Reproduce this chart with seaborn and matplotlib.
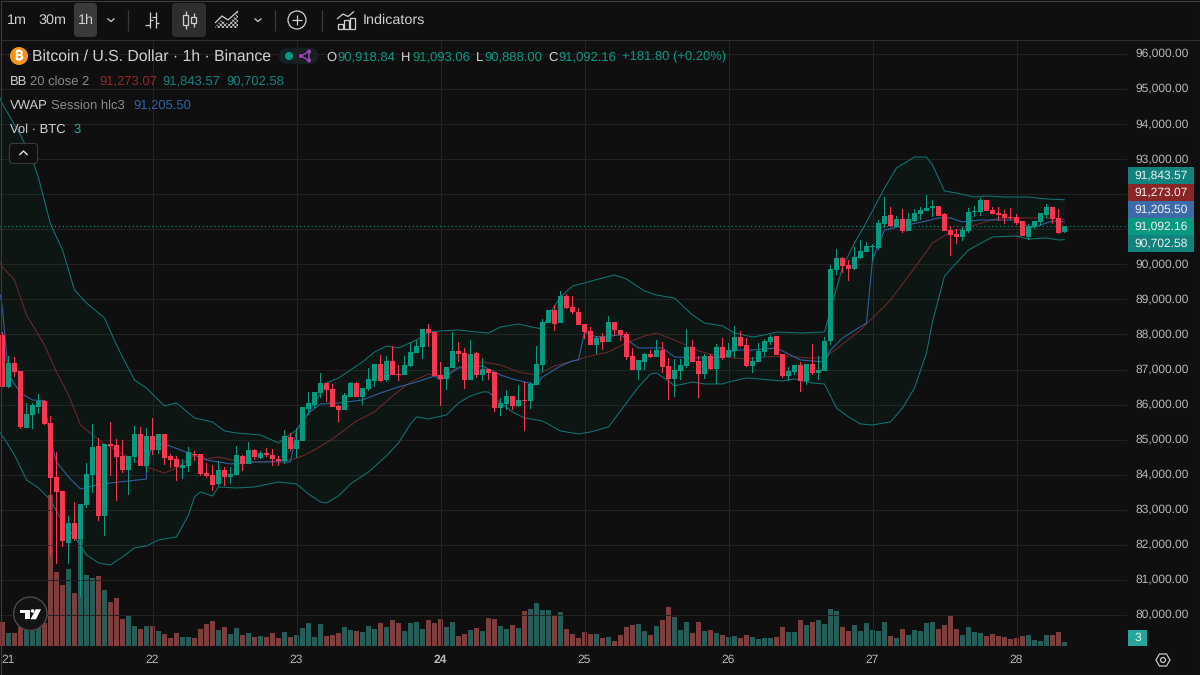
##Import Libraries
import numpy as np
import pandas as pd
import matplotlib
matplotlib.use('Agg')
import matplotlib.pyplot as plt
import matplotlib.transforms as mtrans
import seaborn as sns
from matplotlib.patches import Circle, FancyBboxPatch, Polygon, Rectangle

##Candles, one per hour, first one is the last hour of the 20th
first_hour = -1
open_prices = [87986, 86495, 87198, 86960, 85345, 85707, 85935, 86105, 85470, 83930, 83540, 82060, 82620, 82170, 83140, 83995,
               84820, 82830, 84880, 84850, 84530, 84140, 84500, 85155, 84235, 85110, 84710, 85165, 84540, 84440, 84205, 84255,
               84600, 84595, 84045, 83995, 83730, 84140, 83940, 83995, 84540, 84310, 84710, 84490, 84615, 84565, 84450, 84395,
               85080, 84740, 84963, 85866, 85990, 86320, 86625, 86445, 85970, 85845, 86225, 86625, 86215, 86445, 86675, 87160,
               86700, 87245, 86875, 86845, 87102, 87472, 87643, 88157, 88070, 86845, 86730, 87045, 87530, 87470, 86700, 87470,
               86845, 87015, 86930, 85905, 86018, 86245, 85960, 86130, 86103, 86560, 87130, 88327, 88700, 88327, 89100, 88785,
               88640, 88300, 88100, 87700, 87930, 87785, 88357, 88130, 88015, 87390, 86990, 87215, 87445, 87360, 87560, 87100,
               86730, 86960, 87100, 87645, 87245, 86875, 87385, 87015, 87645, 87360, 87530, 87930, 87700, 87100, 87215, 87500,
               87785, 87955, 87445, 86815, 86930, 87130, 86675, 87160, 86900, 86960, 87824, 89840, 90182, 89982, 89868, 90182,
               90353, 90486, 90467, 91151, 91408, 91066, 91294, 90952, 91237, 91437, 91522, 91608, 91665, 91437, 90980, 90866,
               90781, 90952, 91494, 91494, 91836, 91551, 91465, 91437, 91351, 91351, 91237, 90781, 91066, 91209, 91408, 91636,
               91323, 90918.84]
high_prices = [88080, 87388, 87350, 86960, 86040, 86040, 86305, 86135, 85680, 84650, 83540, 82830, 83230, 83170, 84330, 85450,
               85050, 84880, 85505, 85010, 84990, 84535, 85395, 85355, 85335, 85610, 85165, 85165, 84595, 84540, 84440, 84785,
               84690, 84595, 84345, 84270, 84395, 84225, 84215, 84820, 84570, 84935, 84730, 84690, 84765, 84745, 84520, 85280,
               85185, 85325, 85942, 86360, 86360, 86890, 86625, 86590, 85980, 86320, 86655, 86645, 86475, 87035, 87160, 87415,
               87385, 87670, 87130, 87385, 87795, 87845, 88157, 88300, 88070, 87215, 87075, 88070, 87785, 87615, 87845, 87500,
               87320, 87015, 86930, 86190, 86417, 86245, 86550, 86645, 86645, 87670, 88440, 88700, 88840, 89240, 89155, 89100,
               88755, 88300, 88215, 87960, 88040, 88528, 88357, 88130, 88070, 87615, 87275, 87470, 87560, 87845, 87785, 87330,
               87300, 87300, 88157, 87845, 87385, 87445, 87445, 87730, 87900, 87760, 88240, 88100, 87900, 87360, 87760, 87870,
               87985, 87955, 87445, 87075, 87130, 87215, 87160, 87730, 87385, 87930, 89982, 90438, 90210, 90125, 90505, 90695,
               90638, 90581, 91265, 91920, 91636, 91380, 91580, 91465, 91580, 91636, 91978, 91836, 91665, 91465, 91094, 91009,
               91066, 91608, 91665, 91893, 91836, 91636, 91636, 91551, 91608, 91437, 91237, 91151, 91237, 91465, 91722, 91636,
               91580, 91093.06]
low_prices = [86490, 86466, 86800, 85300, 85345, 85317, 85725, 85420, 81700, 81450, 81950, 81450, 82100, 80510, 83040, 83490,
              82685, 82260, 83950, 83240, 84060, 83425, 84330, 84235, 84090, 84565, 84595, 84280, 84185, 83835, 83870, 84090,
              84405, 83975, 83910, 83540, 83665, 83685, 83740, 83995, 84120, 84310, 84420, 84460, 84500, 84250, 84250, 84300,
              84690, 84470, 84963, 85705, 85895, 86190, 86075, 85940, 85515, 85845, 86225, 86215, 85990, 86390, 86495, 86645,
              86645, 86845, 86675, 86845, 87065, 87472, 87300, 87643, 86815, 85960, 86417, 87045, 87215, 86445, 86700, 86760,
              86675, 86700, 85790, 85675, 85845, 85845, 85940, 85247, 85875, 86560, 86930, 88327, 88100, 88327, 88725, 88585,
              88270, 87870, 87700, 87445, 87555, 87785, 87955, 87815, 87275, 86990, 86700, 86990, 87330, 87360, 86900, 86130,
              86220, 86700, 87045, 87215, 86190, 86730, 86990, 86590, 87275, 87330, 87330, 87645, 87075, 86900, 87215, 87360,
              87700, 87415, 86760, 86675, 86845, 86360, 86560, 86845, 86700, 86960, 87700, 89697, 89754, 89535, 89840, 90153,
              90353, 90096, 90410, 91037, 91066, 91066, 90895, 90952, 91209, 91265, 91522, 91351, 91380, 90952, 90239, 90581,
              90667, 90895, 91351, 91380, 91522, 91437, 91237, 91151, 91265, 91123, 90809, 90695, 91009, 91094, 91323, 91151,
              90866, 90888.00]
close_prices = [86514, 87198, 86940, 85374, 85735, 85992, 86105, 85450, 83920, 83520, 82100, 82620, 82170, 83170, 84025, 84800,
                82830, 84880, 84820, 84500, 84140, 84535, 85155, 84235, 85110, 84710, 85165, 84490, 84420, 84220, 84280, 84635,
                84565, 84025, 83950, 83710, 84140, 83940, 84025, 84565, 84310, 84710, 84500, 84615, 84565, 84460, 84405, 85110,
                84740, 84995, 85942, 86037, 86360, 86625, 86415, 85940, 85845, 86275, 86625, 86215, 86475, 86730, 87160, 86685,
                87245, 86845, 86845, 87130, 87500, 87672, 88157, 88043, 86815, 86730, 87075, 87530, 87445, 86700, 87445, 86845,
                87015, 86900, 85905, 86045, 86245, 85960, 86130, 86110, 86590, 87160, 88357, 88700, 88300, 89100, 88755, 88640,
                88270, 88070, 87700, 87900, 87785, 88357, 88130, 87985, 87360, 86990, 87275, 87445, 87360, 87560, 87075, 86730,
                86990, 87130, 87645, 87215, 86875, 87385, 87015, 87645, 87330, 87560, 87930, 87670, 87100, 87245, 87530, 87815,
                87930, 87415, 86815, 86960, 87130, 86675, 87160, 86900, 86990, 87815, 89868, 90182, 89953, 89868, 90210, 90381,
                90524, 90524, 91180, 91380, 91094, 91294, 90952, 91294, 91465, 91551, 91608, 91665, 91380, 90952, 90838, 90781,
                90980, 91494, 91522, 91836, 91522, 91437, 91418, 91323, 91323, 91180, 90809, 91094, 91237, 91465, 91636, 91294,
                90895, 91092.16]
volumes = [18, 9.75, 9.75, 14.5, 13, 12, 14.5, 17, 113, 55.5, 45.75, 57.75, 39.75, 81, 53.25, 51,
           52.5, 42, 33, 36, 20.25, 22.5, 15, 12.75, 15, 15, 11.25, 9, 6, 9.75, 6.75, 6.75,
           6, 12.75, 16.5, 18.75, 12, 14.25, 9, 13.5, 8.25, 9.75, 6.75, 7.5, 6.75, 9.75, 6, 10.5,
           6.75, 8.25, 13.5, 17.25, 6.75, 16.5, 7.5, 8.25, 9.75, 14.25, 12, 11.25, 10.5, 15, 12.75, 17.25,
           14.25, 19.5, 17.25, 11.25, 17.25, 18, 12.75, 19.5, 17.25, 20.25, 14.25, 18, 7.5, 9, 12, 13.5,
           11.25, 21, 20.25, 15, 12.75, 15.75, 13.5, 26.25, 27.75, 32.25, 27, 27, 23.25, 25.5, 12.75, 9,
           6, 10.5, 9, 9, 6, 6.75, 3.75, 8.25, 14.25, 15.75, 16.5, 11.25, 8.25, 15, 19.5, 29.25,
           21.75, 12, 18, 9.75, 18, 11.25, 12, 9.75, 8.25, 6.75, 7.5, 6, 8.25, 6.75, 5.25, 6,
           6, 6.75, 14.25, 10.5, 10.5, 19.5, 15.75, 18, 19.5, 16.5, 27.75, 26.25, 14.25, 11.25, 15.75, 11.25,
           17.25, 12, 11.25, 18, 7.5, 6, 12.75, 8.25, 12, 11.25, 17.25, 18, 12.75, 15.75, 22.5, 12.75,
           8.25, 14.25, 10.5, 9.75, 7.5, 9, 7.5, 6.75, 5.25, 6, 7.5, 8.25, 4.5, 3.75, 8.25, 8.25,
           10.5, 3]

##Bollinger bands and VWAP, read at the hours where the line bends
upper_hours = [-2, -1, 2, 4, 5, 7, 9, 11, 13, 16, 18, 19, 21, 23, 26, 28, 31, 34, 36, 38, 42, 45, 48, 50, 53, 55, 57, 59, 61,
               63, 65, 68, 70, 72, 75, 78, 80, 82, 85, 88, 89, 90, 92, 94, 96, 99, 101, 103, 106, 108, 111, 114, 116, 119,
               121, 124, 126, 128, 132, 136, 137, 139, 141, 143, 146, 148, 151, 153, 154, 156, 158, 161, 163, 166, 170, 173, 176]
upper_band = [94973, 94574, 93690, 92977, 92464, 91150, 90410, 89269, 88899, 88471, 87701, 87358, 86702, 86474, 85961, 86047,
              85619, 85505, 85248, 85191, 85134, 84906, 85276, 85761, 86617, 86760, 86988, 87216, 87501, 87672, 87615, 87843,
              88071, 88100, 88128, 88071, 88043, 88214, 88300, 88186, 88157, 88556, 89070, 89383, 89469, 89612, 89697, 89583,
              89241, 89127, 89041, 88556, 88328, 88243, 88043, 87929, 87986, 88071, 88043, 88071, 88699, 89925, 90610, 91209,
              92178, 92749, 93062, 93062, 92834, 92093, 92036, 91922, 91950, 91922, 91922, 91865, 91843.57]
lower_hours = [-2, -1, 1, 3, 5, 7, 9, 11, 13, 15, 17, 19, 21, 23, 25, 28, 30, 31, 32, 34, 35, 38, 41, 45, 48, 50, 52, 53, 55,
               57, 60, 63, 65, 67, 68, 70, 73, 75, 77, 79, 80, 82, 84, 86, 89, 92, 95, 97, 100, 102, 105, 107, 108, 110, 111,
               114, 116, 119, 120, 123, 127, 129, 131, 134, 136, 138, 140, 142, 144, 147, 149, 151, 153, 154, 156, 158, 160,
               164, 168, 170, 173, 175, 176]
lower_band = [85334, 85105, 84563, 83850, 83622, 83280, 82653, 82225, 81711, 81483, 81426, 81654, 81911, 81968, 82139, 82225,
              82852, 83366, 83508, 83394, 83651, 83622, 83651, 83793, 83736, 83451, 83223, 83195, 83394, 83736, 84079, 84535,
              84906, 85448, 85647, 85590, 85704, 86047, 86246, 86360, 86360, 86047, 85790, 85619, 85533, 85248, 85162, 85219,
              85362, 85818, 86503, 86874, 86902, 86674, 86531, 86645, 86588, 86588, 86645, 86760, 86702, 86674, 86731, 86617,
              86588, 85904, 85647, 85448, 85419, 85505, 85904, 86474, 87473, 88357, 89669, 90039, 90410, 90781, 90809, 90724,
              90752, 90695, 90702.58]
basis_hours = [-2, -1, 1, 3, 6, 8, 10, 12, 14, 16, 20, 23, 26, 28, 31, 33, 35, 38, 42, 47, 49, 51, 54, 58, 61, 64, 67, 70, 72,
               75, 79, 82, 85, 88, 91, 94, 97, 100, 103, 106, 108, 111, 115, 119, 123, 126, 130, 133, 136, 138, 142, 147, 151,
               154, 157, 160, 165, 169, 173, 176]
basis_band = [90182, 89925, 89554, 88556, 87701, 86931, 86275, 85419, 85134, 84877, 84506, 84221, 84050, 84193, 84563, 84449,
              84506, 84392, 84364, 84421, 84535, 84706, 85020, 85533, 85790, 86246, 86645, 86874, 86788, 87073, 87216, 87130,
              86931, 86845, 87102, 87244, 87387, 87501, 87758, 87957, 88043, 87843, 87530, 87358, 87301, 87358, 87387, 87330,
              87330, 87587, 88128, 88984, 89897, 90610, 90923, 91066, 91323, 91323, 91323, 91273.07]
vwap_hours = [-1.33, -1, 0, 2, 4, 6, 7, 8, 10, 12, 14, 17, 23, 23, 24, 26, 30, 33, 37, 41, 47, 48, 50, 52, 55, 59, 62, 65, 68,
              71, 72, 75, 79, 82, 84, 88, 89, 92, 94, 95, 96, 98, 102, 105, 109, 111, 115, 119, 121, 124, 128, 130, 132, 136,
              137, 139, 143, 144, 146, 149, 153, 155, 157, 159, 162, 168, 169, 170, 172, 174, 176]
vwap_line = [89127, 88699, 86845, 86332, 86132, 86104, 84991, 84364, 83936, 83594, 83679, 83765, 83879, 84278, 84877, 84877,
             84621, 84421, 84307, 84364, 84364, 85276, 85761, 86018, 86047, 86132, 86332, 86503, 86645, 86817, 86702, 87045,
             87102, 86845, 86731, 86560, 86788, 87102, 87244, 87273, 88071, 87929, 87986, 87615, 87615, 87358, 87330, 87358,
             87558, 87558, 87615, 87444, 87273, 87216, 87558, 87900, 88328, 90125, 90980, 91095, 91237, 91323, 91323, 91209,
             91266, 91266, 91210, 91038, 91123, 91237, 91205.50]

##Axis labels and the stacked price tags on the right (91k and 92k sit behind the tags)
price_ticks = [80000 + 1000 * i for i in range(17)]
hidden_ticks = [91000, 92000]
day_labels = ['21', '22', '23', '24', '25', '26', '27', '28']
last_price = 91092.16
price_tags = ['91,843.57', '91,273.07', '91,205.50', '91,092.16', '90,702.58']

UP = '#089981'
DOWN = '#f7374f'
BG = '#0f0f0f'
GRID = '#222222'
TEXT = '#d1d1d1'
MUTED = '#8a8a8a'
BAND = '#117572'
BASIS = '#702828'
VWAP = '#2f5f9f'
TEAL_TAG = '#12827d'
RED_TXT = '#8f2a2a'
BLUE_TXT = '#2f62a8'

sns.set_theme(style='dark', rc={'axes.facecolor': BG, 'figure.facecolor': BG})
plt.rcParams['font.family'] = ['Liberation Sans', 'DejaVu Sans']
plt.rcParams['text.hinting'] = 'no_hinting'
plt.rcParams['hatch.linewidth'] = 0.5

W, H = 1200, 675
PANE_TOP, PANE_BOTTOM, PANE_RIGHT = 40, 646, 1127
PX_PER_USD = 0.03506   # 35 pixels per 1000 dollars
PX_PER_HOUR = 6
DAY_21_PX = 8.5        # half a pixel in, so 5px bodies stay centred on a 1px wick

df = pd.DataFrame({'hour': first_hour + np.arange(len(close_prices)), 'open': open_prices, 'high': high_prices,
                   'low': low_prices, 'close': close_prices, 'volume': volumes})
df['direction'] = np.where(df['close'] >= df['open'], 'up', 'down')

fig = plt.figure(figsize=(12, 6.75), dpi=100, facecolor=BG)
pane_box = [0, 1 - PANE_BOTTOM / H, PANE_RIGHT / W, (PANE_BOTTOM - PANE_TOP) / H]
ax_vol = fig.add_axes(pane_box, zorder=1)
ax = fig.add_axes(pane_box, zorder=2)
ax.patch.set_visible(False)
overlay = fig.add_axes([0, 0, 1, 1], zorder=3)
overlay.set_xlim(0, W)
overlay.set_ylim(H, 0)
overlay.axis('off')

xlim = (-DAY_21_PX / PX_PER_HOUR, (PANE_RIGHT - DAY_21_PX) / PX_PER_HOUR)

##Volume at the bottom of the pane
sns.barplot(data=df, x='hour', y='volume', hue='direction', palette={'up': '#1d665f', 'down': '#8a3333'},
            native_scale=True, dodge=False, width=0.8, linewidth=0, legend=False, ax=ax_vol)
ax_vol.set_xlim(xlim)
ax_vol.set_ylim(0, (PANE_BOTTOM - PANE_TOP) * 0.75)
ax_vol.set_xticks([])
ax_vol.set_yticks([])
ax_vol.set_xlabel('')
ax_vol.set_ylabel('')
ax_vol.set_facecolor(BG)
for s in ax_vol.spines.values():
    s.set_visible(False)

##Bollinger fill, bands and VWAP
band_x = list(upper_hours) + list(lower_hours)[::-1]
band_y = list(upper_band) + list(lower_band)[::-1]
ax.fill(band_x, band_y, color=UP, alpha=0.05, linewidth=0, zorder=1)
sns.lineplot(x=upper_hours, y=upper_band, color=BAND, lw=0.75, estimator=None, sort=False, ax=ax, zorder=2)
sns.lineplot(x=lower_hours, y=lower_band, color=BAND, lw=0.75, estimator=None, sort=False, ax=ax, zorder=2)
sns.lineplot(x=basis_hours, y=basis_band, color=BASIS, lw=0.75, estimator=None, sort=False, ax=ax, zorder=2)
sns.lineplot(x=vwap_hours, y=vwap_line, color=VWAP, lw=0.8, estimator=None, sort=False, ax=ax, zorder=3)

##Candles, wicks as 1px wide bars so they snap to the pixel grid at full colour
colors = np.where(df['direction'] == 'up', UP, DOWN)
ax.bar(df['hour'], df['high'] - df['low'], bottom=df['low'], width=1 / PX_PER_HOUR, color=colors, linewidth=0, zorder=4)
body = np.maximum((df['close'] - df['open']).abs(), 1 / PX_PER_USD)
ax.bar(df['hour'], body, bottom=df[['open', 'close']].min(axis=1), width=0.8, color=colors, linewidth=0, zorder=5)

ax.axhline(last_price, color=UP, lw=0.8, ls=(0, (1, 2.5)), zorder=3)

##Scales and grid
ax.set_xlim(xlim)
ax.set_ylim(96000 - (PANE_BOTTOM - 54) / PX_PER_USD, 96000 + (54 - PANE_TOP) / PX_PER_USD)
ax.yaxis.tick_right()
ax.set_yticks(price_ticks)
ax.set_yticklabels(['' if p in hidden_ticks else f'{p:,.2f}' for p in price_ticks], color='#b8b8b8', fontsize=8.64)
ax.set_xticks([24 * i for i in range(len(day_labels))])
ax.set_xticklabels(day_labels, color='#b8b8b8', fontsize=8.64)
ax.get_xticklabels()[3].set_fontweight('bold')
ax.tick_params(axis='y', length=0, pad=5.8)
ax.tick_params(axis='x', length=0, pad=6.2)
##has to come after tick_params, which resets the label transforms
label_lift = mtrans.ScaledTranslation(0, 1.5 / 100, fig.dpi_scale_trans)
for label in ax.get_yticklabels():
    label.set_transform(label.get_transform() + label_lift)
ax.grid(True, color=GRID, lw=0.72)
ax.set_axisbelow(True)
ax.get_xgridlines()[0].set_visible(False)
ax.set_xlabel('')
ax.set_ylabel('')
for s in ax.spines.values():
    s.set_visible(False)


##Everything below sits in pixel coordinates on the overlay
def txt(x, y, s, color=TEXT, size=13, **kw):
    overlay.text(x, y + 0.7, s, color=color, fontsize=size * 0.72, va='center', ha=kw.pop('ha', 'left'), **kw)


def line(xs, ys, color='#d1d1d1', lw=0.9, **kw):
    overlay.plot(xs, ys, color=color, lw=lw, solid_capstyle='butt', **kw)


def round_box(x0, y0, x1, y1, color, edge='none', r=3):
    overlay.add_patch(FancyBboxPatch((x0 + r, y0 + r), x1 - x0 - 2 * r, y1 - y0 - 2 * r, boxstyle=f'round,pad={r},rounding_size={r}',
                                     fc=color, ec=edge, lw=0.8))


overlay.add_patch(Rectangle((0, 0), W, PANE_TOP - 0.5, fc=BG, ec='none', zorder=0))
line([0, W], [39.5, 39.5], color='#2e2e2e', lw=0.8)
overlay.add_patch(Rectangle((0.5, 0.5), W - 1, H - 1, fc='none', ec='#3d3d3d', lw=0.8))

##Toolbar
round_box(74, 3, 97, 37, '#3a3a3a', r=4)
round_box(172, 3, 206, 37, '#2e2e2e', r=4)
txt(7, 20, '1m', size=14.4)
txt(38, 20, '30m', size=14.4)
txt(78, 20, '1h', size=14.4)
txt(363, 20, 'Indicators', size=14.4)
for cx in (111, 258):
    line([cx - 3.5, cx, cx + 3.5], [18.5, 21.5, 18.5])
for sx in (127.5, 274.5, 321.5):
    line([sx, sx], [10, 31], color='#3a3a3a')
##bar chart icon
line([149.5, 149.5], [12, 28])
line([155.5, 155.5], [12, 28])
line([145, 149.5], [25, 25])
line([149.5, 153], [20, 20])
line([152, 155.5], [17, 17])
line([155.5, 159], [23, 23])
##candle icon
for bx, top, bottom in ((185.5, 15, 25), (193.5, 17, 23)):
    line([bx, bx], [11 if bx < 190 else 13, 29 if bx < 190 else 27])
    overlay.add_patch(Rectangle((bx - 2.5, top), 5, bottom - top, fc='#2e2e2e', ec='#d1d1d1', lw=0.9, zorder=3))
##area icon
overlay.add_patch(Polygon([(215, 27), (222, 20), (228, 24), (238, 12), (238, 28), (215, 28)], fc='none', ec='#c8c8c8', lw=0, hatch='xxxxxxxx'))
line([215, 222, 228, 238], [23, 16, 20, 11])
##plus icon
overlay.add_patch(Circle((297, 20), 9, fc='none', ec='#d1d1d1', lw=0.9))
line([297, 297], [15, 25])
line([292, 302], [20, 20])
##indicators icon
line([337, 343, 348, 354], [19, 14, 16.5, 11.5])
for bx, top in ((337.5, 24), (343.5, 20), (349.5, 18)):
    overlay.add_patch(Rectangle((bx, top), 5, 28.5 - top, fc='none', ec='#d1d1d1', lw=0.9))

##Legend
overlay.add_patch(Circle((19, 56), 9, fc='#f7931a', ec='none'))
overlay.text(19, 56.5, '\u20bf', color='white', fontsize=9.5, ha='center', va='center',
             family=['Inter', 'Noto Sans', 'Roboto', 'Open Sans', 'DejaVu Sans'], fontweight='bold')
txt(32, 56, 'Bitcoin / U.S. Dollar \u00b7 1h \u00b7 Binance', size=15.7)
round_box(279, 48, 318, 64, '#15201f', r=8)
overlay.add_patch(Circle((289, 56), 4, fc=UP, ec='none'))
line([301, 309, 309, 301], [56, 51.5, 60.5, 56], color='#a83fc4', lw=1.0)
for dx, dy in ((301, 56), (309, 51.5), (309, 60.5)):
    overlay.add_patch(Circle((dx, dy), 2, fc='#a83fc4', ec='none'))
for x, s in ((326, 'O'), (401, 'H'), (476, 'L'), (548, 'C')):
    txt(x, 56.5, s)
for x, s in ((337, '90,918.84'), (412, '91,093.06'), (484, '90,888.00'), (558, '91,092.16'), (622, '+181.80 (+0.20%)')):
    txt(x, 56.5, s, color=UP)
txt(10, 80.5, 'BB')
txt(30, 80.5, '20 close 2', color=MUTED)
txt(99, 80.5, '91,273.07', color=RED_TXT)
txt(162, 80.5, '91,843.57', color=TEAL_TAG)
txt(226, 80.5, '90,702.58', color=TEAL_TAG)
txt(10, 104.5, 'VWAP')
txt(51, 104.5, 'Session hlc3', color=MUTED)
txt(133, 104.5, '91,205.50', color=BLUE_TXT)
txt(10, 128.5, 'Vol \u00b7 BTC')
txt(74, 128.5, '3', color='#26a69a')
round_box(9.5, 143.5, 37.5, 163.5, BG, edge='#3a3a3a', r=3)
line([19.5, 23.5, 27.5], [155, 151, 155], color='#e0e0e0', lw=1.0)

##Price tags
tag_colors = [TEAL_TAG, '#8a2525', '#3d6aa8', UP, TEAL_TAG]
for i, (s, c) in enumerate(zip(price_tags, tag_colors)):
    top = 167 + 17 * i
    overlay.add_patch(Rectangle((1128, top), 66, 17, fc=c, ec='none'))
    txt(1161, top + 7.4, s, color='#f0f0f0', size=12, ha='center')
overlay.add_patch(Rectangle((1128, 630), 19, 16, fc='#26a69a', ec='none'))
txt(1137.5, 637.5, '3', color='#f0f0f0', size=12, ha='center')

##Settings hexagon
overlay.add_patch(Polygon([(1156, 660), (1159.5, 654), (1166.5, 654), (1170, 660), (1166.5, 666), (1159.5, 666)], fc='none', ec='#c8c8c8', lw=0.9))
overlay.add_patch(Circle((1163, 660), 2.5, fc='none', ec='#c8c8c8', lw=0.9))

##Round logo
overlay.add_patch(Circle((30.3, 613.7), 16.7, fc='#131313', ec='#4a4a4a', lw=1.0))
overlay.add_patch(Rectangle((20, 609.5), 10, 3.8, fc='white', ec='none'))
overlay.add_patch(Rectangle((25.3, 609.5), 4.7, 9.8, fc='white', ec='none'))
overlay.add_patch(Circle((32.6, 611), 1.8, fc='white', ec='none'))
overlay.add_patch(Polygon([(35.7, 609.3), (41, 609.3), (36, 619.3), (30.5, 619.3)], fc='white', ec='none'))

overlay.set_xlim(0, W)
overlay.set_ylim(H, 0)
fig.savefig('out.png', dpi=100, facecolor=BG)
